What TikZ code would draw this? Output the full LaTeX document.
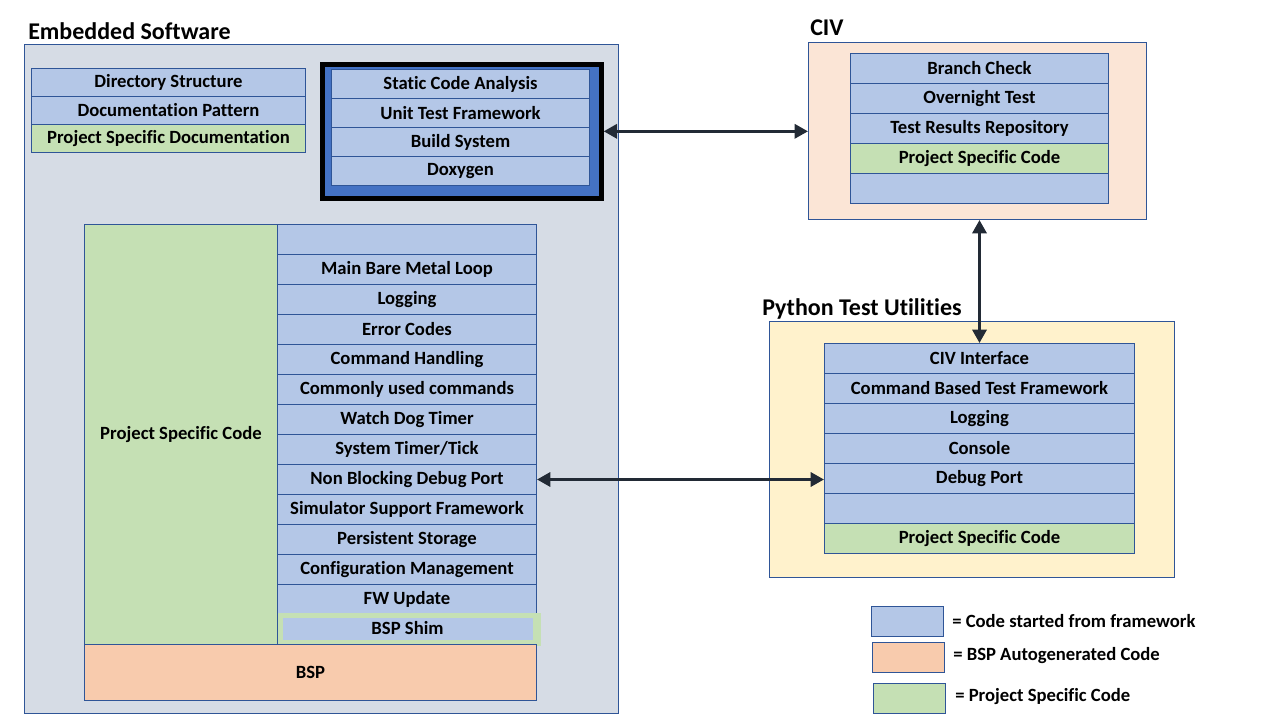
\documentclass[tikz,border=0pt]{standalone}
\usepackage{fontspec}
\setmainfont{Carlito}[Ligatures=NoCommon]
\usepackage{tikz}
\usetikzlibrary{arrows.meta}
\newlength\pu
\setlength\pu{0.75pt}
\definecolor{fwblue}{HTML}{B4C7E7}
\definecolor{pjgreen}{HTML}{C5E0B4}
\definecolor{bspred}{HTML}{F8CBAD}
\definecolor{edge}{HTML}{2F5597}
\definecolor{swgray}{HTML}{D6DCE5}
\definecolor{civbg}{HTML}{FBE5D6}
\definecolor{pybg}{HTML}{FFF2CC}
\definecolor{toolbg}{HTML}{4472C4}
\definecolor{linkc}{HTML}{222A35}
\tikzset{
  box/.style={draw=edge,line width=0.75pt,anchor=north west,inner sep=0pt,
    font=\bfseries\fontsize{14}{16}\selectfont},
  fwrow/.style={box,fill=fwblue,minimum height=30*\pu},
  pjrow/.style={box,fill=pjgreen,minimum height=30*\pu},
  title/.style={anchor=base west,inner sep=0pt,font=\bfseries\fontsize{18}{20}\selectfont},
  keytext/.style={anchor=west,inner sep=0pt,font=\bfseries\fontsize{14}{16}\selectfont},
  link/.style={{Triangle[length=10pt,width=10.5pt]}-{Triangle[length=10pt,width=10.5pt]},
    color=linkc,line width=2.4pt}
}
\begin{document}
\begin{tikzpicture}[x=0.75pt,y=-0.75pt]
    \useasboundingbox (0,0) rectangle (1280,720);
    % the three groups
    \node at (24,44)[box,fill=swgray,minimum width=594*\pu,minimum height=669*\pu] (sw) {};
    \node at (808,42)[box,fill=civbg,minimum width=338*\pu,minimum height=177*\pu] (civ) {};
    \node at (769,321)[box,fill=pybg,minimum width=405*\pu,minimum height=256*\pu] (py) {};
    \node at (28,40)[title] (swtitle) {Embedded Software};
    \node at (810,36)[title] (civtitle) {CIV};
    \node at (762,315)[title] (pytitle) {Python Test Utilities};
    % documentation
    \node at (31,68)[fwrow,minimum width=274*\pu,minimum height=28*\pu] (doc0) {Directory Structure};
    \node at (31,96)[fwrow,minimum width=274*\pu,minimum height=28*\pu] (doc1) {Documentation Pattern};
    \node at (31,124)[pjrow,minimum width=274*\pu,minimum height=28*\pu] (doc2) {Project Specific Documentation};
    % tools
    \node at (320,62)[box,draw=black,line width=3.5pt,fill=toolbg,minimum width=279*\pu,minimum height=134*\pu] (tools) {};
    \foreach \lbl [count=\i from 0] in {Static Code Analysis,Unit Test Framework,Build System,Doxygen}
      \node at (331,{69+29*\i})[fwrow,minimum width=258*\pu,minimum height=29*\pu] (tool\i) {\lbl};
    % firmware stack
    \node at (84,224)[pjrow,minimum width=193*\pu,minimum height=420*\pu] (pjcode) {Project Specific Code};
    \foreach \lbl [count=\i from 0] in {{},Main Bare Metal Loop,Logging,Error Codes,Command Handling,
        Commonly used commands,Watch Dog Timer,System Timer/Tick,Non Blocking Debug Port,
        Simulator Support Framework,Persistent Storage,Configuration Management,FW Update}
      \node at (277,{224+30*\i})[fwrow,minimum width=259*\pu] (sw\i) {\lbl};
    \node at (277,612)[box,draw=none,fill=pjgreen,minimum width=263*\pu,minimum height=33*\pu] (shim) {};
    \node at (282,617)[box,draw=none,fill=fwblue,minimum width=250*\pu,minimum height=22*\pu] (shimin) {BSP Shim};
    \node at (84,644)[box,fill=bspred,minimum width=452*\pu,minimum height=56*\pu] (bsp) {BSP};
    % CIV
    \foreach \lbl [count=\i from 0] in {Branch Check,Overnight Test,Test Results Repository}
      \node at (850,{53+30*\i})[fwrow,minimum width=258*\pu] (civ\i) {\lbl};
    \node at (850,143)[pjrow,minimum width=258*\pu] (civ3) {Project Specific Code};
    \node at (850,173)[fwrow,minimum width=258*\pu] (civ4) {};
    % python utilities
    \foreach \lbl [count=\i from 0] in {CIV Interface,Command Based Test Framework,Logging,Console,Debug Port,{}}
      \node at (824,{343+30*\i})[fwrow,minimum width=310*\pu] (py\i) {\lbl};
    \node at (824,523)[pjrow,minimum width=310*\pu] (py6) {Project Specific Code};
    % links
    \draw[link] (tools.east) -- (tools.east -| civ.west);
    \draw[link] (civ.south -| py0.north) -- (py0.north);
    \draw[link] (sw8.east) -- (sw8.east -| py4.west);
    % legend
    \node at (871,606)[fwrow,minimum width=72*\pu] (key0) {};
    \node at (872,642)[box,fill=bspred,minimum width=72*\pu,minimum height=30*\pu] (key1) {};
    \node at (873,683)[pjrow,minimum width=72*\pu] (key2) {};
    \node at (952,621)[keytext] (keytxt0) {= Code started from framework};
    \node at (953,656)[keytext] (keytxt1) {= BSP Autogenerated Code};
    \node at (955,697)[keytext] (keytxt2) {= Project Specific Code};
\end{tikzpicture}
\end{document}
